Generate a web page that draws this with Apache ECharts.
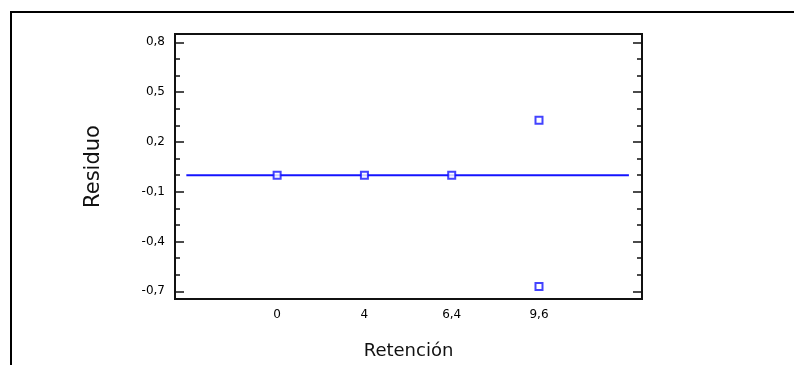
<!DOCTYPE html>
<html>
<head>
<meta charset="utf-8">
<script src="https://cdn.jsdelivr.net/npm/echarts@6/dist/echarts.min.js"></script>
<style>html,body{margin:0;padding:0;background:#fff;}#c{width:794px;height:365px;}</style>
</head>
<body>
<div id="c"></div>
<script>
// Data
var categories = ['0', '4', '6,4', '9,6'];
var pointCategoryIndex = [0, 1, 2, 3, 3];
var residuals = [0.0, 0.0, 0.0, 0.33, -0.67];
var fitLineX = [-1.04, 4.03];
var fitLineY = [0, 0];
var yMajorTicks = [0.8, 0.5, 0.2, -0.1, -0.4, -0.7];
var yMinorTicks = [0.7, 0.6, 0.4, 0.3, 0.1, 0.0, -0.2, -0.3, -0.5, -0.6];
var xTickPositions = [0, 1, 2, 3];

var Y_MIN = -0.746, Y_MAX = 0.85;
var X_MIN = -1.17, X_MAX = 4.18;
var BLUE = '#1414ff';
var FONT = 'DejaVu Sans';

function yAxis(pos, ticks, len, labels) {
  return {
    type: 'value', position: pos, min: Y_MIN, max: Y_MAX,
    splitLine: {show: false},
    axisLine: {show: false, onZero: false},
    axisTick: {show: true, inside: true, length: len, customValues: ticks,
               lineStyle: {color: '#111', width: 1.5}},
    axisLabel: labels ? {show: true, customValues: ticks, margin: 10, color: '#000',
               fontFamily: FONT, fontSize: 12,
               formatter: function (v) { return v.toFixed(1).replace('.', ','); }} : {show: false}
  };
}

var pts = pointCategoryIndex.map(function (c, i) { return [c, residuals[i]]; });
var line = fitLineX.map(function (x, i) { return [x, fitLineY[i]]; });

var chart = echarts.init(document.getElementById('c'), null, {renderer: 'canvas'});
chart.setOption({
  animation: false,
  backgroundColor: '#fff',
  grid: {left: 175, top: 34, right: 152, bottom: 64, show: true, borderColor: '#111', borderWidth: 2, backgroundColor: 'transparent'},
  graphic: [{
    type: 'rect', shape: {x: 11, y: 12, width: 900, height: 600},
    style: {fill: 'none', stroke: '#000', lineWidth: 2}, silent: true, z: 100
  }],
  xAxis: {
    type: 'value', min: X_MIN, max: X_MAX,
    splitLine: {show: false}, axisLine: {show: false, onZero: false}, axisTick: {show: false},
    axisLabel: {customValues: xTickPositions, margin: 10, color: '#000', fontFamily: FONT, fontSize: 12,
      formatter: function (v) { return categories[Math.round(v)]; }},
    name: 'Retención', nameLocation: 'middle', nameGap: 43,
    nameTextStyle: {fontFamily: FONT, fontSize: 18, color: '#111'}
  },
  yAxis: [
    Object.assign(yAxis('left', yMajorTicks, 9, true), {
      name: 'Residuo', nameLocation: 'middle', nameGap: 71, nameRotate: 90,
      nameTextStyle: {fontFamily: FONT, fontSize: 21, color: '#111'}
    }),
    yAxis('left', yMinorTicks, 5, false),
    yAxis('right', yMajorTicks, 9, false),
    yAxis('right', yMinorTicks, 5, false)
  ],
  series: [
    {type: 'line', data: line, showSymbol: false, symbol: 'none',
     lineStyle: {color: BLUE, width: 2}, z: 2},
    {type: 'scatter', data: pts, symbol: 'emptyRect', symbolSize: 7,
     itemStyle: {color: BLUE, borderColor: BLUE, borderWidth: 2}, z: 3}
  ]
});
</script>
</body>
</html>
